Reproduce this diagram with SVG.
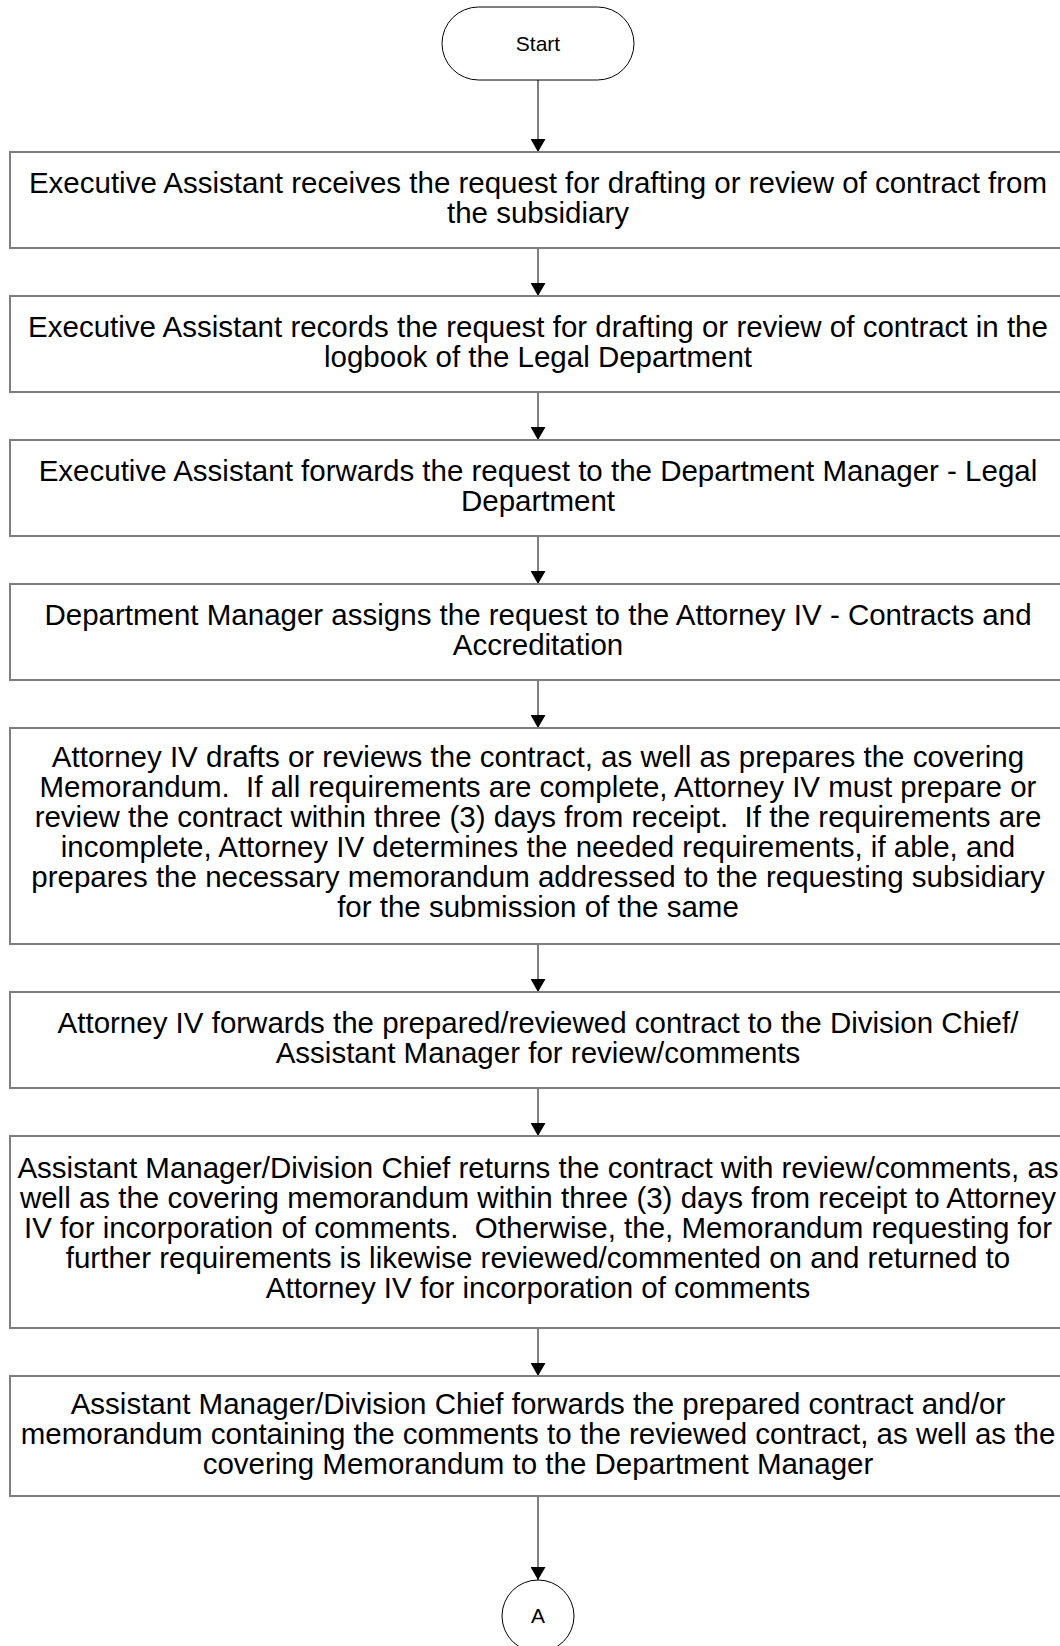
<svg xmlns="http://www.w3.org/2000/svg" width="1060" height="1646" viewBox="0 0 1060 1646">
<style>
.box{fill:#fff;stroke:#7f7f7f;stroke-width:2}
.term{fill:#fff;stroke:#000;stroke-width:1}
.t{font-family:"Liberation Sans",Arial,sans-serif;font-size:29.5px;fill:#000;text-anchor:middle;white-space:pre}
.s{font-family:"Liberation Sans",Arial,sans-serif;font-size:21px;fill:#000;text-anchor:middle}
.conn{stroke:#7f7f7f;stroke-width:2;fill:none;marker-end:url(#ah)}
</style>
<defs>
<marker id="ah" markerUnits="userSpaceOnUse" markerWidth="13" markerHeight="15" refX="13" refY="7.5" orient="auto" viewBox="0 0 13 15">
<path d="M0,0 L13,7.5 L0,15 Z" fill="#000"/>
</marker>
</defs>
<rect width="1060" height="1646" fill="#fff"/>
<g id="connectors">
<line class="conn" x1="538" y1="80" x2="538" y2="152"/>
<line class="conn" x1="538" y1="248" x2="538" y2="296"/>
<line class="conn" x1="538" y1="392" x2="538" y2="440"/>
<line class="conn" x1="538" y1="536" x2="538" y2="584"/>
<line class="conn" x1="538" y1="680" x2="538" y2="728"/>
<line class="conn" x1="538" y1="944" x2="538" y2="992"/>
<line class="conn" x1="538" y1="1088" x2="538" y2="1136"/>
<line class="conn" x1="538" y1="1328" x2="538" y2="1376"/>
<line class="conn" x1="538" y1="1496" x2="538" y2="1580"/>
</g>
<g id="start">
<rect class="term" x="442" y="7" width="192" height="73" rx="36.5"/>
<text class="s" x="538" y="51">Start</text>
</g>
<g id="n1">
<rect class="box" x="10" y="152" width="1056" height="96"/>
<text class="t" x="538" y="193">Executive Assistant receives the request for drafting or review of contract from</text>
<text class="t" x="538" y="223">the subsidiary</text>
</g>
<g id="n2">
<rect class="box" x="10" y="296" width="1056" height="96"/>
<text class="t" x="538" y="337">Executive Assistant records the request for drafting or review of contract in the</text>
<text class="t" x="538" y="367">logbook of the Legal Department</text>
</g>
<g id="n3">
<rect class="box" x="10" y="440" width="1056" height="96"/>
<text class="t" x="538" y="481">Executive Assistant forwards the request to the Department Manager - Legal</text>
<text class="t" x="538" y="511">Department</text>
</g>
<g id="n4">
<rect class="box" x="10" y="584" width="1056" height="96"/>
<text class="t" x="538" y="625">Department Manager assigns the request to the Attorney IV - Contracts and</text>
<text class="t" x="538" y="655">Accreditation</text>
</g>
<g id="n5">
<rect class="box" x="10" y="728" width="1056" height="216"/>
<text class="t" x="538" y="767">Attorney IV drafts or reviews the contract, as well as prepares the covering</text>
<text class="t" x="538" y="797">Memorandum.  If all requirements are complete, Attorney IV must prepare or</text>
<text class="t" x="538" y="827">review the contract within three (3) days from receipt.  If the requirements are</text>
<text class="t" x="538" y="857">incomplete, Attorney IV determines the needed requirements, if able, and</text>
<text class="t" x="538" y="887">prepares the necessary memorandum addressed to the requesting subsidiary</text>
<text class="t" x="538" y="917">for the submission of the same</text>
</g>
<g id="n6">
<rect class="box" x="10" y="992" width="1056" height="96"/>
<text class="t" x="538" y="1033">Attorney IV forwards the prepared/reviewed contract to the Division Chief/</text>
<text class="t" x="538" y="1063">Assistant Manager for review/comments</text>
</g>
<g id="n7">
<rect class="box" x="10" y="1136" width="1056" height="192"/>
<text class="t" x="538" y="1178">Assistant Manager/Division Chief returns the contract with review/comments, as</text>
<text class="t" x="538" y="1208">well as the covering memorandum within three (3) days from receipt to Attorney</text>
<text class="t" x="538" y="1238">IV for incorporation of comments.  Otherwise, the, Memorandum requesting for</text>
<text class="t" x="538" y="1268">further requirements is likewise reviewed/commented on and returned to</text>
<text class="t" x="538" y="1298">Attorney IV for incorporation of comments</text>
</g>
<g id="n8">
<rect class="box" x="10" y="1376" width="1056" height="120"/>
<text class="t" x="538" y="1414">Assistant Manager/Division Chief forwards the prepared contract and/or</text>
<text class="t" x="538" y="1444">memorandum containing the comments to the reviewed contract, as well as the</text>
<text class="t" x="538" y="1474">covering Memorandum to the Department Manager</text>
</g>
<g id="connA">
<circle class="term" cx="538" cy="1616" r="36"/>
<text class="s" x="538" y="1623">A</text>
</g>
</svg>
